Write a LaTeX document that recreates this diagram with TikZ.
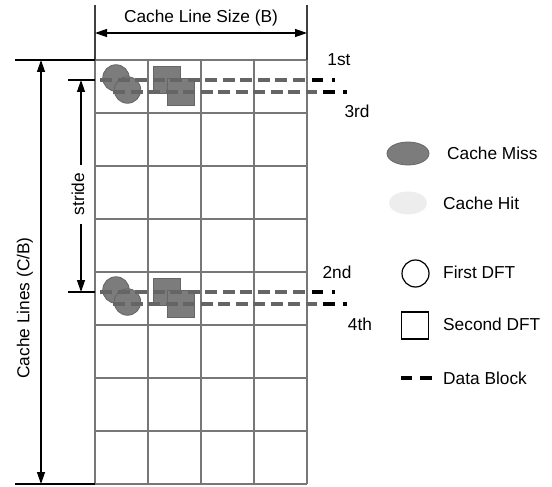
\documentclass[tikz,border=0pt]{standalone}
\usepackage{fontspec}
\setmainfont{Liberation Sans}
\usetikzlibrary{arrows.meta,shapes.geometric}
\definecolor{gridgray}{HTML}{777777}
\definecolor{shgray}{HTML}{7C7C7C}
\definecolor{shdark}{HTML}{666666}
\definecolor{dgray}{HTML}{656565}
\definecolor{hitgray}{HTML}{EDEDED}
\begin{document}
\begin{tikzpicture}[x=1pt,y=-1pt,
  gridline/.style={draw=gridgray,line width=1.5pt},
  dim/.style={draw=black,line width=1.3pt},
  tri/.tip={Triangle[width=8pt,length=12pt]},
  lbl/.style={font=\fontsize{17.3}{20}\selectfont,inner sep=0pt},
  shapefill/.style={fill=shgray,draw=shdark,line width=0.8pt},
  dblock/.style={draw=dgray,line width=3.3pt,dash pattern=on 12pt off 5.5pt},
  dtail/.style={draw=black,line width=3.3pt}]
\useasboundingbox (0,0) rectangle (552,487);

% grid
\foreach \i in {0,...,8}
  \draw[gridline] (95,{60+53*\i}) -- (307,{60+53*\i});
\foreach \j in {0,...,4}
  \draw[gridline] ({95+53*\j},60) -- ({95+53*\j},484);

% top dimension
\coordinate (tl0) at (95,5);
\coordinate (tl1) at (95,60);
\coordinate (tr0) at (307,5);
\coordinate (tr1) at (307,60);
\draw[dim,draw=black!75] (tl0) -- (tl1);
\draw[dim,draw=black!75] (tr0) -- (tr1);
\coordinate (csL) at (95,33);
\coordinate (csR) at (307,33);
\draw[dim,tri-tri] (csL) -- (csR);
\node[lbl] (cls) at (201,18) {Cache Line Size (B)};

% left dimension: cache lines
\coordinate (ext1a) at (15,60);
\coordinate (ext1b) at (95,60);
\coordinate (ext2a) at (15,484);
\coordinate (ext2b) at (95,484);
\draw[dim] (ext1a) -- (ext1b);
\draw[dim] (ext2a) -- (ext2b);
\coordinate (clT) at (41,60);
\coordinate (clB) at (41,484);
\draw[dim,tri-tri] (clT) -- (clB);
\node[lbl,rotate=90] (cll) at (25,308) {Cache Lines (C/B)};

% stride
\coordinate (st1a) at (68,80);
\coordinate (st1b) at (95,80);
\coordinate (st2a) at (68,292);
\coordinate (st2b) at (95,292);
\draw[dim] (st1a) -- (st1b);
\draw[dim] (st2a) -- (st2b);
\coordinate (sT) at (81,80);
\coordinate (sTm) at (81,165);
\coordinate (sBm) at (81,224);
\coordinate (sB) at (81,292);
\draw[dim,tri-] (sT) -- (sTm);
\draw[dim,-tri] (sBm) -- (sB);
\node[lbl,rotate=90] (stride) at (78,194) {stride};

% accesses
\foreach \t/\n in {60/a,272/b}{
  \node[shapefill,circle,minimum size=26.5pt,inner sep=0pt] (c1\n) at (116,\t+18) {};
  \node[shapefill,circle,minimum size=26.5pt,inner sep=0pt] (c2\n) at (127.5,\t+30) {};
  \node[shapefill,rectangle,minimum size=27pt,inner sep=0pt] (q1\n) at (167,\t+20) {};
  \node[shapefill,rectangle,minimum size=27pt,inner sep=0pt] (q2\n) at (180.5,\t+32) {};
  \coordinate (l1s\n) at (100,\t+20);
  \coordinate (l1e\n) at (306,\t+20);
  \coordinate (l1t1\n) at (312,\t+20);
  \coordinate (l1t2\n) at (323,\t+20);
  \coordinate (l1t3\n) at (332,\t+20);
  \coordinate (l1t4\n) at (335,\t+20);
  \draw[dblock] (l1s\n) -- (l1e\n);
  \draw[dtail] (l1t1\n) -- (l1t2\n);
  \draw[dtail] (l1t3\n) -- (l1t4\n);
  \coordinate (l2s\n) at (113,\t+32);
  \coordinate (l2e\n) at (317,\t+32);
  \coordinate (l2t1\n) at (323,\t+32);
  \coordinate (l2t2\n) at (335,\t+32);
  \coordinate (l2t3\n) at (343,\t+32);
  \coordinate (l2t4\n) at (347,\t+32);
  \draw[dblock] (l2s\n) -- (l2e\n);
  \draw[dtail] (l2t1\n) -- (l2t2\n);
  \draw[dtail] (l2t3\n) -- (l2t4\n);
}

\node[lbl] (first) at (339,60) {1st};
\node[lbl] (third) at (357,111) {3rd};
\node[lbl] (second) at (337,272) {2nd};
\node[lbl] (fourth) at (360,324) {4th};

% legend
\node[shapefill,ellipse,minimum width=42pt,minimum height=23pt,inner sep=0pt] (lmiss) at (408,153.5) {};
\node[lbl,anchor=west] (tmiss) at (447,153) {Cache Miss};
\node[fill=hitgray,ellipse,minimum width=38pt,minimum height=23pt,inner sep=0pt] (lhit) at (408,203) {};
\node[lbl,anchor=west] (thit) at (443,203) {Cache Hit};
\node[draw=black,line width=1.2pt,circle,minimum size=27pt,inner sep=0pt] (lfirst) at (415.5,273.5) {};
\node[lbl,anchor=west] (tfirst) at (443,272) {First DFT};
\node[draw=black,line width=1.2pt,rectangle,minimum size=27pt,inner sep=0pt] (lsecond) at (415,325.5) {};
\node[lbl,anchor=west] (tsecond) at (443,324) {Second DFT};
\coordinate (db1) at (401,378);
\coordinate (db2) at (412,378);
\coordinate (db3) at (420,378);
\coordinate (db4) at (432,378);
\draw[dtail] (db1) -- (db2);
\draw[dtail] (db3) -- (db4);
\node[lbl,anchor=west] (tdata) at (443,378) {Data Block};
\end{tikzpicture}
\end{document}
